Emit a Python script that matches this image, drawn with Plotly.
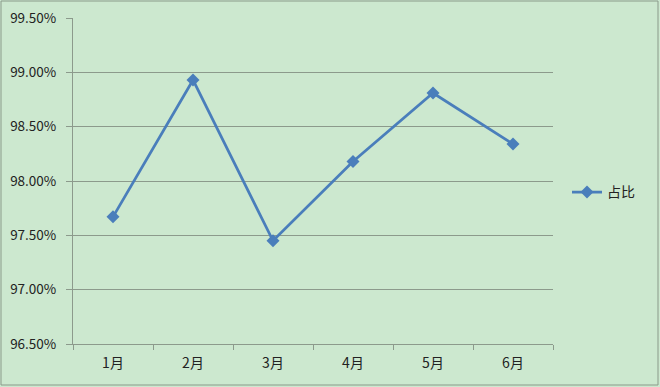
import plotly.graph_objects as go

months = ["1月", "2月", "3月", "4月", "5月", "6月"]
share = [0.9767, 0.9893, 0.9745, 0.9818, 0.9881, 0.9834]
series_name = "占比"
y_ticks = [0.965, 0.970, 0.975, 0.980, 0.985, 0.990, 0.995]
y_tick_labels = ["96.50%", "97.00%", "97.50%", "98.00%", "98.50%", "99.00%", "99.50%"]

W, H = 660, 387
ml, mr, mt, mb = 73, 107, 18, 43
pw, ph = W - ml - mr, H - mt - mb

bg = "#CCE8CF"
blue = "#4A7EBB"
grid = "#8C9A8C"
font = "Noto Sans CJK SC, Liberation Sans, sans-serif"

fig = go.Figure()
fig.add_trace(go.Scatter(
    x=months, y=share, name=series_name, mode="lines+markers",
    line=dict(color=blue, width=2.75),
    marker=dict(symbol="diamond", size=10, color=blue),
))

fig.update_layout(
    width=W, height=H,
    margin=dict(l=ml, r=mr, t=mt, b=mb),
    paper_bgcolor=bg, plot_bgcolor=bg,
    font=dict(family=font, size=14, color="#222222"),
    showlegend=True,
    legend=dict(x=1.0 + 14 / pw, xanchor="left", y=0.465, yanchor="middle",
                bgcolor="rgba(0,0,0,0)", font=dict(size=14, color="#222222"),
                itemwidth=30),
    xaxis=dict(
        type="category", tickson="boundaries", ticks="outside", ticklen=5,
        tickcolor=grid, showgrid=False, showline=True, linecolor=grid,
        linewidth=1, range=[-0.5, 5.5], fixedrange=True,
        ticklabelstandoff=6, automargin=False,
    ),
    yaxis=dict(
        range=[0.965, 0.995], tickvals=y_ticks, ticktext=y_tick_labels,
        ticks="outside", ticklen=6, tickcolor=grid, showgrid=True,
        gridcolor=grid, gridwidth=1, showline=True, linecolor=grid,
        linewidth=1, zeroline=False, ticklabelstandoff=7,
        tickfont=dict(size=13.5), automargin=False,
    ),
    shapes=[dict(
        type="rect", xref="paper", yref="paper",
        x0=(1 - ml) / pw, x1=1 + (mr - 2) / pw,
        y0=-(mb - 2) / ph, y1=1 + (mt - 1) / ph,
        line=dict(color="#8A9A8A", width=1), fillcolor="rgba(0,0,0,0)",
        layer="below",
    )],
)

fig.write_html("out.html")
